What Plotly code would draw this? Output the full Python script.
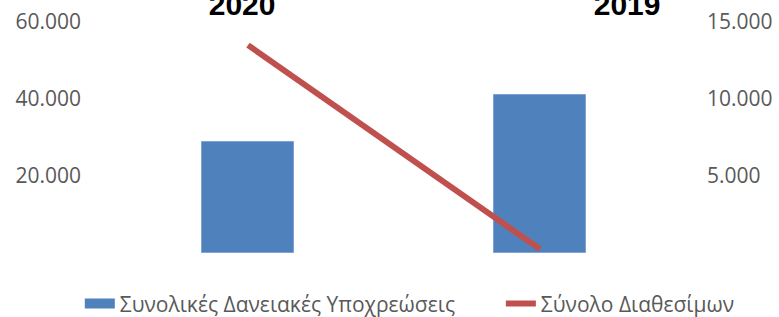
import plotly.graph_objects as go

years = ["2020", "2019"]
loans = [28800, 41000]          # Συνολικές Δανειακές Υποχρεώσεις (left axis)
cash = [13500, 250]             # Σύνολο Διαθεσίμων (right axis)
left_ticks = [20000, 40000, 60000]
right_ticks = [5000, 10000, 15000]
names = ["Συνολικές Δανειακές Υποχρεώσεις", "Σύνολο Διαθεσίμων"]

font_main = "Open Sans, Noto Sans, DejaVu Sans, sans-serif"
bar_color = "#4F81BD"

fig = go.Figure()
fig.add_trace(go.Bar(
    x=list(range(len(years))), y=loans, name=names[0], legendgroup="a",
    marker=dict(color=bar_color, line=dict(color="#7EA2D2", width=1)),
    width=0.315, xaxis="x", yaxis="y", showlegend=False,
))
# legend swatch for the bars (wide rectangle, as in the reference)
fig.add_trace(go.Scatter(
    x=[None], y=[None], name=names[0], legendgroup="a", mode="lines",
    line=dict(color=bar_color, width=13), xaxis="x", yaxis="y",
    hoverinfo="skip", legend="legend",
))
fig.add_trace(go.Scatter(
    x=list(range(len(years))), y=cash, name=names[1], mode="lines",
    line=dict(color="#C0504D", width=6), xaxis="x", yaxis="y2",
    legend="legend2",
))
# invisible carrier for the top category labels
fig.add_trace(go.Scatter(
    x=list(range(len(years))), y=[None] * len(years), xaxis="x2", yaxis="y",
    showlegend=False, hoverinfo="skip", mode="markers",
))

legend_common = dict(orientation="h", xanchor="left", y=-0.22,
                     yanchor="middle", font=dict(size=21, color="#595959"),
                     itemwidth=30, bgcolor="rgba(0,0,0,0)")

fig.update_layout(
    width=779, height=317,
    margin=dict(l=102, r=93, t=22, b=64, autoexpand=False),
    paper_bgcolor="white", plot_bgcolor="white",
    separators=",.",
    font=dict(family=font_main, color="#595959"),
    bargap=0,
    xaxis=dict(range=[-0.5, 1.5], showticklabels=False, showgrid=False,
               zeroline=False, showline=False, ticks="", automargin=False),
    xaxis2=dict(overlaying="x", side="top", anchor="y",
                range=[-0.364, 1.153], tickmode="array",
                tickvals=list(range(len(years))), ticktext=years,
                showgrid=False, zeroline=False, showline=False, ticks="",
                automargin=False,
                tickfont=dict(family="Liberation Sans, Arial, sans-serif",
                              size=30, color="black", weight="bold")),
    yaxis=dict(range=[0, 60000], tickmode="array", tickvals=left_ticks,
               tickformat=",d", showgrid=False, zeroline=False, showline=False,
               ticks="", ticklabelstandoff=20, automargin=False,
               tickfont=dict(size=21, color="#595959")),
    yaxis2=dict(range=[0, 15000], overlaying="y", side="right",
                tickmode="array", tickvals=right_ticks, tickformat=",d",
                showgrid=False, zeroline=False, showline=False, ticks="",
                ticklabelstandoff=20, automargin=False,
                tickfont=dict(size=21, color="#595959")),
    legend=dict(x=-0.038, **legend_common),
    legend2=dict(x=0.683, **legend_common),
    showlegend=True,
)

fig.write_html("out.html", config={"displayModeBar": False},
               post_script="document.body.style.margin='0';")
